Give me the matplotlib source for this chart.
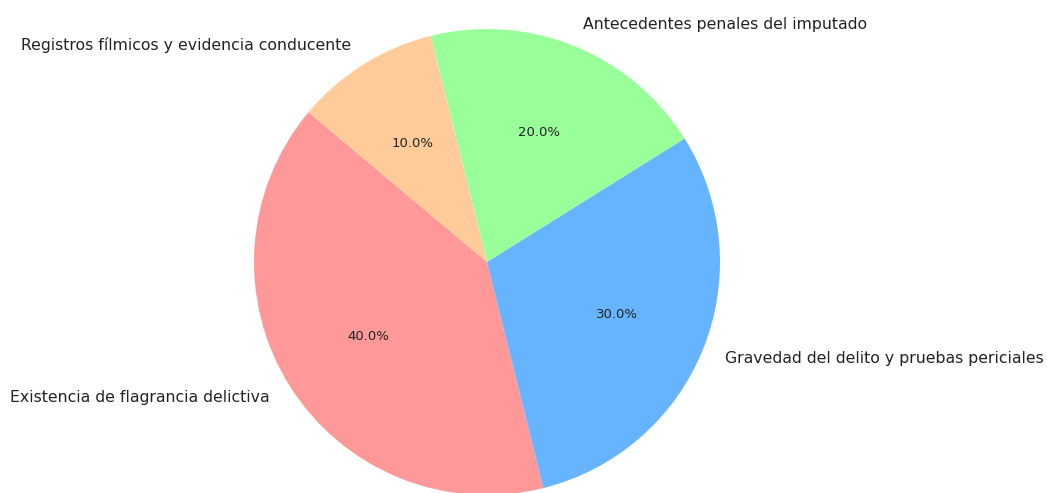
import matplotlib
matplotlib.use("Agg")
import matplotlib.pyplot as plt

categories = ["Existencia de flagrancia delictiva",
              "Gravedad del delito y pruebas periciales",
              "Antecedentes penales del imputado",
              "Registros fílmicos y evidencia conducente"]
values = [40, 30, 20, 10]
colors = ["#ff9999", "#66b3ff", "#99ff99", "#ffcc99"]

W, H = 1047, 493
fig = plt.figure(figsize=(W / 100, H / 100), dpi=100)
ax = fig.add_axes([0, 0, 1, 1])
wedges, texts, autotexts = ax.pie(values, labels=categories, colors=colors,
                                  autopct="%1.1f%%", startangle=140,
                                  textprops={"fontsize": 11.3, "color": "#222222"})
for t in autotexts:
    t.set_fontsize(9.5)

R = 233.0
cx, cy = 487.0, 262.0
ax.set_xlim(-cx / R, (W - cx) / R)
ax.set_ylim(-(H - cy) / R, cy / R)
ax.set_aspect("auto")
ax.axis("off")
fig.savefig("out.png", dpi=100)
